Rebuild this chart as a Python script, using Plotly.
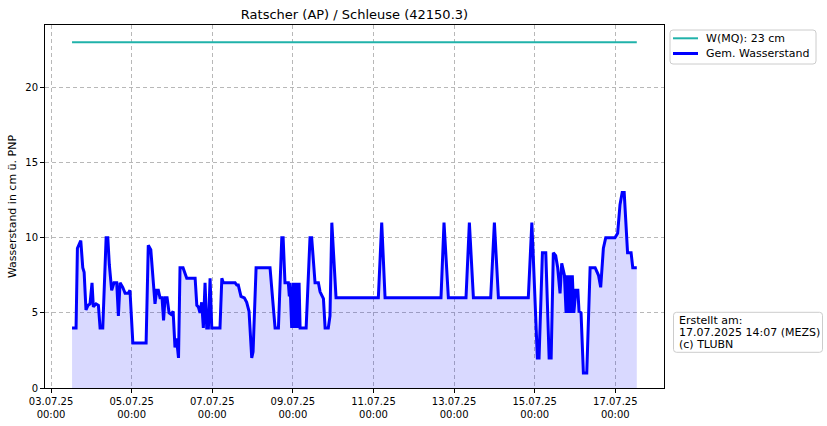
import pandas as pd
import plotly.graph_objects as go

title = "Ratscher (AP) / Schleuse (42150.3)"
start = pd.Timestamp("2025-07-03 00:00")

# hours since 03.07.2025 00:00 and measured water level (cm)
hours = [12.5, 14.9, 15.7, 17.7, 18.9, 19.7, 20.8, 22.0, 23.2, 24.4, 25.2, 26.8, 28.2, 29.2, 30.8,
         32.8, 33.8, 34.7, 36.1, 37.5, 39.1, 40.1, 41.1, 42.7, 44.1, 46.0, 47.0, 48.7, 56.6, 57.9,
         59.4, 61.9, 62.9, 63.9, 64.9, 66.1, 67.0, 67.9, 69.1, 70.3, 71.5, 72.7, 73.8, 74.7, 75.9,
         76.8, 78.6, 80.8, 85.8, 86.8, 87.7, 88.7, 89.7, 90.7, 91.7, 92.7, 93.7, 94.7, 95.7, 100.6,
         101.7, 102.6, 109.6, 110.6, 111.5, 113.1, 115.1, 116.5, 117.9, 119.5, 120.3, 122.1, 129.4,
         130.4, 132.0, 133.4, 135.4, 137.4, 138.2, 139.3, 141.3, 141.9, 142.3, 143.3, 144.3, 144.9,
         145.9, 146.7, 147.7, 148.3, 151.9, 154.2, 155.2, 157.2, 159.2, 160.2, 162.2, 163.2, 165.1,
         166.1, 167.2, 169.7, 194.9, 196.9, 198.9, 232.2, 234.0, 236.6, 247.1, 249.1, 251.5, 261.8,
         264.0, 266.4, 284.2, 286.3, 287.2, 289.6, 290.6, 292.6, 294.6, 296.6, 297.8, 299.1, 300.5,
         301.7, 303.1, 304.1, 305.7, 306.7, 307.5, 308.1, 309.1, 309.9, 310.4, 311.3, 312.5, 313.7,
         314.4, 315.6, 317.0, 319.0, 321.0, 324.0, 326.0, 327.3, 328.9, 330.3, 335.8, 337.4, 338.8,
         340.1, 341.3, 343.3, 345.4, 346.4, 348.8]
level = [4, 4, 9.3, 9.8, 8, 7.7, 5.2, 5.5, 5.6, 7, 5.4, 5.6, 5.5, 4, 4,
         10, 10, 8.2, 6.5, 7, 7, 4.8, 7, 6.7, 6.3, 6.3, 6.5, 3, 3, 9.5,
         9.2, 5.6, 6.5, 6.5, 6.0, 6.0, 4.5, 6.0, 6.0, 5.0, 4.9, 5.1, 2.7, 3.3, 2.0,
         8, 8, 7.3, 7.3, 5.5, 5.4, 5.0, 5.7, 4.0, 7.0, 4.0, 4.0, 7.3, 4.0, 4.0,
         7.3, 7.0, 7.0, 6.85, 6.85, 6.1, 6.0, 5.7, 5.1, 2.0, 2.4, 8.0, 8.0,
         8.0, 5.85, 4.0, 4.0, 10, 10, 7, 7, 6.1, 7, 4, 7, 4,
         7, 4, 7, 4, 4, 10, 10, 7, 7, 6.4, 5.95, 4, 4,
         4.8, 11, 6, 6, 11, 6, 6, 11, 6, 6, 11, 6, 6,
         11, 6, 6, 11, 8.6, 2.0, 2, 9, 9, 2, 2, 9, 8.8,
         8, 6.3, 8.3, 7.5, 5, 7.5, 5, 7.5, 5, 7.5, 5, 6.5, 6.5,
         5.1, 5, 1, 1, 8, 8, 7.5, 6.7, 9.3, 10, 10, 10.3, 12.2,
         13, 13, 9, 9, 8, 8]

mq_value = 23
mq_label = "W(MQ): 23 cm"
level_label = "Gem. Wasserstand"
tick_days = ["2025-07-03", "2025-07-05", "2025-07-07", "2025-07-09",
             "2025-07-11", "2025-07-13", "2025-07-15", "2025-07-17"]
tick_labels = ["03.07.25<br>00:00", "05.07.25<br>00:00", "07.07.25<br>00:00", "09.07.25<br>00:00",
               "11.07.25<br>00:00", "13.07.25<br>00:00", "15.07.25<br>00:00", "17.07.25<br>00:00"]
y_ticks = [0, 5, 10, 15, 20]
note_lines = ["Erstellt am:", "17.07.2025 14:07 (MEZS)", "(c) TLUBN"]

mq_color = "#20b2aa"
level_color = "#0000ff"
times = [start + pd.Timedelta(hours=h) for h in hours]

fig = go.Figure()
fig.add_trace(go.Scatter(x=times, y=level, mode="lines", fill="tozeroy",
                         fillcolor="rgba(0,0,255,0.15)", line=dict(width=0),
                         showlegend=False, hoverinfo="skip"))
fig.add_trace(go.Scatter(x=[times[0], times[-1]], y=[mq_value, mq_value], mode="lines",
                         name=mq_label, line=dict(color=mq_color, width=2)))
fig.add_trace(go.Scatter(x=times, y=level, mode="lines", name=level_label,
                         line=dict(color=level_color, width=3)))

font = "DejaVu Sans, sans-serif"

# layout geometry (page pixels; body margin removed below)
W, H = 827, 426
L, R, T, B = 45, 163, 25, 38
PW, PH = W - L - R, H - T - B


def px(x):
    return (x - L) / PW


def py(y):
    return (H - B - y) / PH


def rounded_box(x0, y0, x1, y1, r=3):
    a, b, c, d = px(x0), py(y0), px(x1), py(y1)
    rx, ry = r / PW, r / PH
    return (f"M {a+rx},{b} L {c-rx},{b} Q {c},{b} {c},{b-ry} L {c},{d+ry} Q {c},{d} {c-rx},{d} "
            f"L {a+rx},{d} Q {a},{d} {a},{d+ry} L {a},{b-ry} Q {a},{b} {a+rx},{b} Z")


shapes = [
    dict(type="path", xref="paper", yref="paper", path=rounded_box(670, 30, 816, 64),
         line=dict(color="#cccccc", width=1), fillcolor="white", layer="above"),
    dict(type="line", xref="paper", yref="paper", x0=px(673), x1=px(698), y0=py(38.3), y1=py(38.3),
         line=dict(color=mq_color, width=2), layer="above"),
    dict(type="line", xref="paper", yref="paper", x0=px(673), x1=px(698), y0=py(53.5), y1=py(53.5),
         line=dict(color=level_color, width=3), layer="above"),
    dict(type="path", xref="paper", yref="paper", path=rounded_box(673.5, 312.3, 822.5, 352.3),
         line=dict(color="#cccccc", width=1), fillcolor="white", layer="above"),
]

annotations = [
    dict(text=mq_label, xref="paper", yref="paper", x=px(704), y=py(38.3), xanchor="left",
         yanchor="middle", showarrow=False, font=dict(size=11, family=font)),
    dict(text=level_label, xref="paper", yref="paper", x=px(704), y=py(53.5), xanchor="left",
         yanchor="middle", showarrow=False, font=dict(size=11, family=font)),
]
for i, line in enumerate(note_lines):
    annotations.append(dict(text=line, xref="paper", yref="paper", x=px(676.5),
                            y=py(320 + 12 * i), xanchor="left", yanchor="middle",
                            showarrow=False, font=dict(size=11, family=font)))

fig.update_layout(
    width=W, height=H,
    margin=dict(l=L, r=R, t=T, b=B, autoexpand=False),
    paper_bgcolor="white", plot_bgcolor="white",
    font=dict(family=font, size=10, color="black"),
    title=dict(text=title, x=0.5, xref="paper", xanchor="center", y=1 - 14 / H, yanchor="middle",
               font=dict(size=13, family=font)),
    showlegend=False,
    xaxis=dict(type="date", automargin=False,
               range=[start - pd.Timedelta(hours=3.6), start + pd.Timedelta(hours=365)],
               tickvals=[pd.Timestamp(d) for d in tick_days], ticktext=tick_labels,
               ticks="outside", ticklen=4, tickcolor="black",
               showline=True, linecolor="black", linewidth=1, mirror=True,
               showgrid=True, gridcolor="#b8b8b8", griddash="4px,3px", gridwidth=1,
               zeroline=False, tickfont=dict(size=10)),
    yaxis=dict(range=[0, 24.15], tickvals=y_ticks, automargin=False,
               ticks="outside", ticklen=4, tickcolor="black",
               showline=True, linecolor="black", linewidth=1, mirror=True,
               showgrid=True, gridcolor="#b8b8b8", griddash="4px,3px", gridwidth=1,
               zeroline=False, tickfont=dict(size=10),
               title=dict(text="Wasserstand in cm ü. PNP", font=dict(size=11), standoff=6)),
    shapes=shapes,
    annotations=annotations,
)

fig.write_html("out.html", config={"displayModeBar": False},
               post_script="document.body.style.margin='0';document.body.style.overflow='hidden';")
